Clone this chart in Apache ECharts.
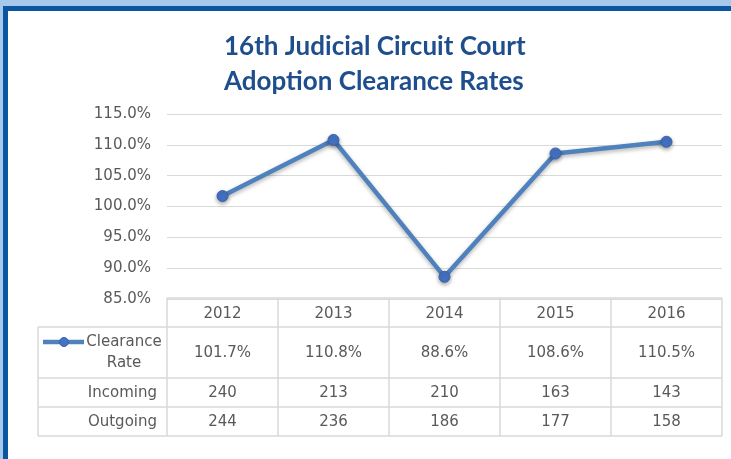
<!DOCTYPE html>
<html>
<head>
<meta charset="utf-8">
<script src="https://cdn.jsdelivr.net/npm/echarts@6/dist/echarts.min.js"></script>
<style>
  html, body { margin: 0; padding: 0; background: #fff; }
  #wrap { position: relative; width: 731px; height: 459px; overflow: hidden; }
  .edge-top-light { position: absolute; left: 0; top: 0; width: 731px; height: 6px; background: #a6c8ea; }
  .edge-top-dark { position: absolute; left: 3px; top: 6px; width: 728px; height: 5px; background: #0b56a1; }
  .edge-left-light { position: absolute; left: 0; top: 0; width: 3px; height: 459px; background: #a6c8ea; }
  .edge-left-dark { position: absolute; left: 3px; top: 6px; width: 5px; height: 453px; background: #0b56a1; }
  #chart { position: absolute; left: 0; top: 0; width: 731px; height: 459px; }
</style>
</head>
<body>
<div id="wrap">
  <div id="chart"></div>
  <div class="edge-top-light"></div>
  <div class="edge-left-light"></div>
  <div class="edge-top-dark"></div>
  <div class="edge-left-dark"></div>
</div>
<script>
  // data
  const years = ['2012', '2013', '2014', '2015', '2016']
  const clearanceRate = [101.7, 110.8, 88.6, 108.6, 110.5]
  const incoming = [240, 213, 210, 163, 143]
  const outgoing = [244, 236, 186, 177, 158]
  const yTicks = [85, 90, 95, 100, 105, 110, 115]

  const TITLE_FONT = 'Lato, "Open Sans", sans-serif'
  const FONT = '"DejaVu Sans", sans-serif'
  const TEXT_COLOR = '#595959'
  const LINE_COLOR = '#4f81bd'
  const BORDER = '#d9d9d9'

  const myChart = echarts.init(document.getElementById('chart'))

  const option = {
    animation: false,
    title: {
      text: '16th Judicial Circuit Court\nAdoption Clearance Rates',
      left: 219,
      top: 24,
      textStyle: {
        fontFamily: TITLE_FONT,
        fontSize: 26,
        fontWeight: 'bold',
        color: '#1f4e8c',
        lineHeight: 35
      }
    },
    grid: {
      left: 167,
      right: 9,
      top: 114,
      bottom: 160,
      containLabel: false
    },
    xAxis: {
      type: 'category',
      data: years,
      boundaryGap: true,
      axisLine: { show: false },
      axisTick: { show: false },
      axisLabel: { show: false },
      splitLine: { show: false }
    },
    yAxis: {
      type: 'value',
      min: yTicks[0],
      max: yTicks[yTicks.length - 1],
      interval: 5,
      axisLine: { show: false },
      axisTick: { show: false },
      axisLabel: {
        margin: 16,
        color: TEXT_COLOR,
        fontFamily: FONT,
        fontSize: 15,
        formatter: function(v) {
          return v.toFixed(1) + '%'
        }
      },
      splitLine: {
        show: true,
        lineStyle: { color: BORDER, width: 1 }
      }
    },
    series: [
      {
        name: 'Clearance Rate',
        type: 'line',
        data: clearanceRate,
        symbol: 'circle',
        symbolSize: 11,
        lineStyle: {
          color: LINE_COLOR,
          width: 4.5,
          shadowColor: 'rgba(0,0,0,0.3)',
          shadowBlur: 4,
          shadowOffsetY: 2
        },
        itemStyle: {
          color: '#4472c4',
          borderColor: '#3a64a8',
          borderWidth: 1,
          shadowColor: 'rgba(0,0,0,0.35)',
          shadowBlur: 4,
          shadowOffsetY: 2
        }
      }
    ]
  }

  myChart.setOption(option)

  // data table under the plot, lined up with the category bands
  function buildTable() {
    const centers = years.map((y, i) => myChart.convertToPixel({ xAxisIndex: 0 }, i))
    const band = centers[1] - centers[0]
    const left = centers[0] - band / 2
    const right = centers[centers.length - 1] + band / 2
    const labelLeft = 38
    const rows = [298, 327, 378, 407, 436]
    const elements = []
    const line = (x1, y1, x2, y2) => ({
      type: 'line',
      shape: { x1: x1, y1: y1, x2: x2, y2: y2 },
      style: { stroke: BORDER, lineWidth: 1.5 },
      silent: true
    })
    const text = (str, x, y, align) => ({
      type: 'text',
      x: x,
      y: y,
      style: {
        text: str,
        fill: TEXT_COLOR,
        font: '15px ' + FONT,
        align: align || 'center',
        verticalAlign: 'middle'
      },
      silent: true
    })

    // horizontal lines
    elements.push(line(left, rows[0], right, rows[0]))
    for (let r = 1; r < rows.length; r++) {
      elements.push(line(labelLeft, rows[r], right, rows[r]))
    }
    // vertical lines
    elements.push(line(labelLeft, rows[1], labelLeft, rows[4]))
    for (let c = 0; c <= years.length; c++) {
      const x = left + c * band
      elements.push(line(x, rows[0], x, rows[4]))
    }

    const mid = (r) => (rows[r] + rows[r + 1]) / 2
    years.forEach((y, i) => {
      elements.push(text(y, centers[i], mid(0) + 2))
      elements.push(text(clearanceRate[i].toFixed(1) + '%', centers[i], mid(1) + 1))
      elements.push(text(String(incoming[i]), centers[i], mid(2) + 1))
      elements.push(text(String(outgoing[i]), centers[i], mid(3) + 1))
    })

    // legend key in the first row
    elements.push({
      type: 'line',
      shape: { x1: 43, y1: 342, x2: 84, y2: 342 },
      style: { stroke: LINE_COLOR, lineWidth: 4.5 },
      silent: true
    })
    elements.push({
      type: 'circle',
      shape: { cx: 64, cy: 342, r: 4.5 },
      style: { fill: '#4472c4', stroke: '#3a64a8', lineWidth: 1 },
      silent: true
    })
    elements.push(text('Clearance', 124, 342))
    elements.push(text('Rate', 124, 363))
    elements.push(text('Incoming', 157, mid(2) + 1, 'right'))
    elements.push(text('Outgoing', 157, mid(3) + 1, 'right'))

    myChart.setOption({ graphic: { elements: elements } })
  }

  buildTable()
</script>
</body>
</html>
